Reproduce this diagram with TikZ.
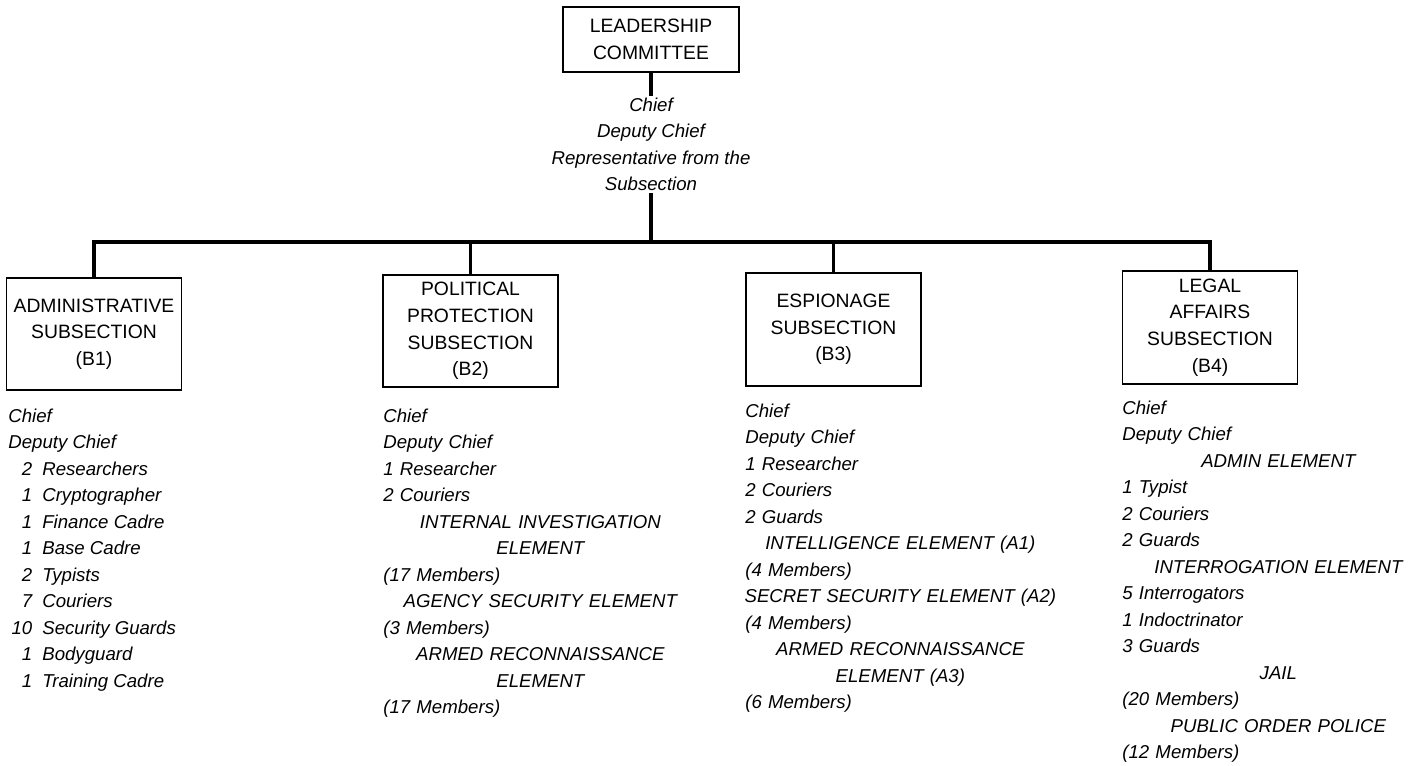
\documentclass[tikz,border=0pt]{standalone}
\usepackage{fontspec}
\setmainfont{Liberation Sans}
\usetikzlibrary{positioning}

\tikzset{
    unitbox/.style={draw, line width=1pt, align=center, minimum width=3.5cm,
        minimum height=2.25cm, inner sep=2pt, font=\fontsize{11}{15.2}\selectfont},
    bus/.style={line width=2pt},
    staff/.style={inner sep=0pt, font=\fontsize{10.6}{15.08}\selectfont\itshape},
    stafflist/.style={staff, anchor=north west, align=left},
}
% count of members, right aligned in front of the post
\newcommand{\cnt}[1]{\makebox[0.48cm][r]{#1}\hspace{0.2cm}}
% element heading, centred over the list
\newcommand{\ctr}[1]{\makebox[\hsize][c]{#1}}

\begin{document}
\begin{tikzpicture}[x=0.2mm, y=-0.2mm]
        \useasboundingbox (0,0) rectangle (1419,766);

        % Top: leadership committee
        \node[unitbox, minimum width=3.52cm, minimum height=1.3cm] (lead) at (651,39.5) {LEADERSHIP\\COMMITTEE};
        \node[staff, align=center, inner sep=1pt] (leadstaff) at (651,144.5)
            {Chief\\Deputy Chief\\Representative from the\\Subsection};
        \coordinate (junc) at (651,242);
        \draw[bus] (lead) -- (leadstaff);
        \draw[bus] (leadstaff) -- (junc);

        % Subsections
        \node[unitbox] (b1) at (94,334) {ADMINISTRATIVE\\SUBSECTION\\(B1)};
        \node[unitbox] (b2) at (470.5,331) {POLITICAL\\PROTECTION\\SUBSECTION\\(B2)};
        \node[unitbox] (b3) at (833.5,329.5) {ESPIONAGE\\SUBSECTION\\(B3)};
        \node[unitbox] (b4) at (1210,327.5) {LEGAL\\AFFAIRS\\SUBSECTION\\(B4)};

        % Bus line
        \draw[bus] (b1.north) |- (junc) -| (b4.north);
        \draw[bus] (b2.north) -- (b2.north |- junc);
        \draw[bus] (b3.north) -- (b3.north |- junc);

        % B1 staff
        \node[stafflist] (s1) at (8,408.5) {Chief\\Deputy Chief\\
            \cnt{2}Researchers\\\cnt{1}Cryptographer\\\cnt{1}Finance Cadre\\
            \cnt{1}Base Cadre\\\cnt{2}Typists\\\cnt{7}Couriers\\
            \cnt{10}Security Guards\\\cnt{1}Bodyguard\\\cnt{1}Training Cadre};

        % B2 staff
        \node[stafflist, text width=6.28cm] (s2) at (383,408.5) {Chief\\Deputy Chief\\
            1 Researcher\\2 Couriers\\
            \ctr{INTERNAL INVESTIGATION}\\\ctr{ELEMENT}\\(17 Members)\\
            \ctr{AGENCY SECURITY ELEMENT}\\(3 Members)\\
            \ctr{ARMED RECONNAISSANCE}\\\ctr{ELEMENT}\\(17 Members)};

        % B3 staff
        \node[stafflist, text width=6.2cm] (s3) at (745,403.5) {Chief\\Deputy Chief\\
            1 Researcher\\2 Couriers\\2 Guards\\
            \ctr{INTELLIGENCE ELEMENT (A1)}\\(4 Members)\\
            \ctr{SECRET SECURITY ELEMENT (A2)}\\(4 Members)\\
            \ctr{ARMED RECONNAISSANCE}\\\ctr{ELEMENT (A3)}\\(6 Members)};

        % B4 staff
        \node[stafflist, text width=6.24cm] (s4) at (1122,400.5) {Chief\\Deputy Chief\\
            \ctr{ADMIN ELEMENT}\\1 Typist\\2 Couriers\\2 Guards\\
            \ctr{INTERROGATION ELEMENT}\\5 Interrogators\\1 Indoctrinator\\3 Guards\\
            \ctr{JAIL}\\(20 Members)\\
            \ctr{PUBLIC ORDER POLICE}\\(12 Members)};

\end{tikzpicture}
\end{document}
